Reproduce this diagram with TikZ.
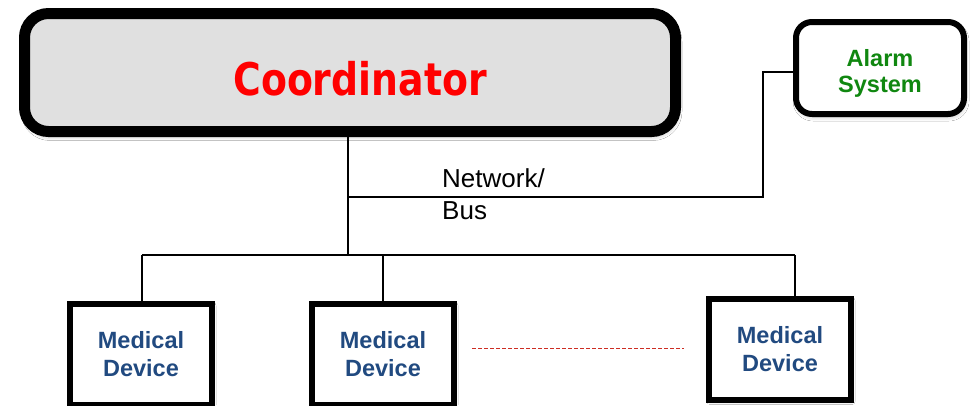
\documentclass[tikz,border=0pt]{standalone}
\usepackage{fontspec}
\setmainfont{Liberation Sans}
\newfontfamily\coordfont[FakeStretch=0.84]{DejaVu Sans}
\usetikzlibrary{shadows.blur}

\definecolor{boxgray}{RGB}{224,224,224}
\definecolor{devblue}{RGB}{33,74,128}
\definecolor{alarmgreen}{RGB}{16,135,16}
\definecolor{dashred}{RGB}{205,45,35}

\begin{document}
\begin{tikzpicture}[x=1pt,y=-1pt,
  wire/.style={draw=black,line width=1.3pt},
  softshadow/.style={blur shadow={shadow xshift=1.5pt,shadow yshift=-4pt,
      shadow blur radius=5pt,shadow opacity=35}},
  coordbox/.style={draw=black,line width=11pt,rounded corners=24pt,fill=boxgray,
      minimum width=651pt,minimum height=118pt,inner sep=0pt,softshadow},
  alarmbox/.style={draw=black,line width=6pt,rounded corners=16pt,fill=white,
      minimum width=168pt,minimum height=92pt,inner sep=0pt,
      blur shadow={shadow xshift=1pt,shadow yshift=-3pt,shadow blur radius=4pt,shadow opacity=25}},
  alarmtext/.style={inner sep=0pt,align=center,
      font=\fontsize{23.5}{26}\selectfont\bfseries,text=alarmgreen},
  devbox/.style={draw=black,line width=6pt,fill=white,
      minimum width=142pt,minimum height=101pt,inner sep=0pt,align=center,
      font=\fontsize{23.5}{28}\selectfont\bfseries,text=devblue,
      blur shadow={shadow xshift=1pt,shadow yshift=-2pt,shadow blur radius=3pt,shadow opacity=25}},
  netlabel/.style={anchor=base west,inner sep=0pt,font=\fontsize{26}{32}\selectfont}
]
\useasboundingbox (0,0) rectangle (971,405);
\fill[white] (0,0) rectangle (971,405);

% junction points of the bus wiring
\coordinate (nettap) at (348,197);
\coordinate (busmid) at (348,256);
\coordinate (busleft) at (142,255);
\coordinate (busright) at (795,255);
\coordinate (alarmbend) at (763,72);
\coordinate (gapleft) at (472,348);
\coordinate (gapright) at (684,348);

% boxes
\node[coordbox] (coord) at (350,72.5) {};
\node[inner sep=0pt,font=\coordfont\fontsize{45}{50}\selectfont\bfseries,text=red]
  (coordtext) at (360,78.5) {Coordinator};
\node[alarmbox] (alarm) at (880,68) {};
\node[alarmtext] (alarmlbl) at (880,73) {Alarm\\System};
\node[devbox] (dev1) at (141,354) {Medical\\Device};
\node[devbox] (dev2) at (383,354) {Medical\\Device};
\node[devbox] (dev3) at (780,349) {Medical\\Device};

% network / bus wiring
\draw[wire] (coord.south -| busmid) -- (busmid);
\draw[wire] (nettap) -| (alarmbend) -- (alarm.west |- alarmbend);
\draw[wire] (busleft) -- (busright);
\draw[wire] (busleft) -- (busleft |- dev1.north);
\draw[wire] (dev2.north |- busleft) -- (dev2.north);
\draw[wire] (busright) -- (busright |- dev3.north);

% further devices
\draw[dashred,line width=1pt,dash pattern=on 4pt off 2pt] (gapleft) -- (gapright);

% bus label
\node[netlabel] (netlbl) at (442,187) {Network/};
\node[netlabel] (buslbl) at (442,219) {Bus};
\end{tikzpicture}
\end{document}
